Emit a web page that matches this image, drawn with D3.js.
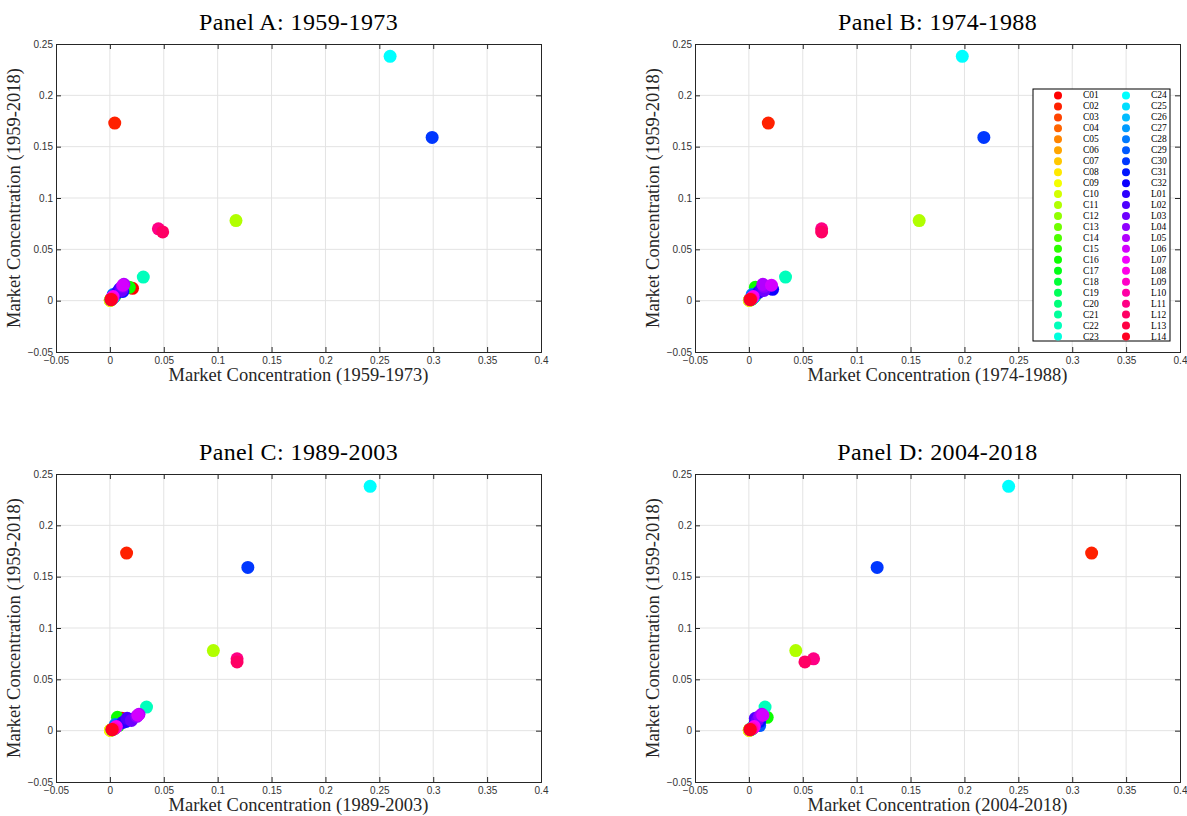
<!DOCTYPE html>
<html>
<head>
<meta charset="utf-8">
<script src="https://cdn.jsdelivr.net/npm/d3@7"></script>
<style>
  body { margin: 0; background: #fff; }
  svg { display: block; }
  .tick-label { font-family: "Liberation Sans", Arial, sans-serif; font-size: 10px; fill: #333; }
  .title { font-family: "Liberation Serif", "Times New Roman", serif; font-size: 24px; letter-spacing: 0.4px; fill: #000; }
  .axis-title { font-family: "Liberation Serif", "Times New Roman", serif; font-size: 18.5px; fill: #262626; }
  .legend-text { font-family: "Liberation Serif", serif; font-size: 9.5px; fill: #000; }
</style>
</head>
<body>
<svg id="chart" width="1187" height="816"></svg>
<script>
// industry codes (legend order)
const codes = ["C01","C02","C03","C04","C05","C06","C07","C08","C09","C10","C11","C12",
  "C13","C14","C15","C16","C17","C18","C19","C20","C21","C22","C23","C24","C25","C26",
  "C27","C28","C29","C30","C31","C32","L01","L02","L03","L04","L05","L06","L07","L08",
  "L09","L10","L11","L12","L13","L14"];

// market concentration 1959-2018 (y, same for every panel)
const concFull = [0.012,0.173,0.001,0.0008,0.0006,0.0004,0.0005,0.0003,0.0004,0.0012,0.078,0.002,
  0.003,0.004,0.005,0.013,0.003,0.002,0.001,0.0015,0.002,0.023,0.001,0.238,0.002,0.003,
  0.004,0.006,0.005,0.159,0.009,0.011,0.008,0.012,0.010,0.014,0.016,0.015,0.004,0.003,
  0.002,0.0015,0.070,0.067,0.001,0.0012];

// market concentration per sub-period (x)
const conc5973 = [0.021,0.0045,0.001,0.0008,0.0005,0.0004,0.0005,0.0003,0.0004,0.001,0.117,0.002,
  0.003,0.004,0.005,0.018,0.003,0.002,0.001,0.0015,0.002,0.031,0.001,0.260,0.002,0.003,
  0.004,0.003,0.003,0.299,0.012,0.009,0.007,0.010,0.011,0.012,0.013,0.012,0.003,0.002,
  0.002,0.0015,0.045,0.049,0.001,0.0012];
const conc7488 = [0.012,0.018,0.002,0.001,0.0007,0.0005,0.0006,0.0004,0.0005,0.0015,0.158,0.003,
  0.004,0.005,0.006,0.006,0.004,0.003,0.002,0.002,0.003,0.034,0.001,0.198,0.002,0.004,
  0.005,0.003,0.004,0.218,0.010,0.022,0.009,0.012,0.014,0.014,0.013,0.021,0.004,0.003,
  0.002,0.002,0.0675,0.0675,0.001,0.0015];
const conc8903 = [0.011,0.0155,0.002,0.0015,0.001,0.0006,0.0008,0.0005,0.0006,0.002,0.096,0.004,
  0.005,0.006,0.008,0.007,0.005,0.004,0.002,0.003,0.004,0.034,0.002,0.2415,0.003,0.005,
  0.006,0.005,0.007,0.128,0.015,0.018,0.012,0.016,0.020,0.025,0.027,0.026,0.006,0.005,
  0.004,0.003,0.118,0.118,0.002,0.002];
const conc0418 = [0.008,0.318,0.001,0.0008,0.0006,0.0004,0.0005,0.0003,0.0004,0.001,0.0435,0.002,
  0.003,0.004,0.006,0.017,0.004,0.003,0.002,0.002,0.003,0.015,0.001,0.241,0.002,0.004,
  0.005,0.009,0.010,0.119,0.010,0.008,0.006,0.006,0.008,0.010,0.012,0.013,0.005,0.004,
  0.003,0.002,0.060,0.052,0.001,0.0012];

const panelTitles = ["Panel A: 1959-1973","Panel B: 1974-1988","Panel C: 1989-2003","Panel D: 2004-2018"];
const periods = ["1959-1973","1974-1988","1989-2003","2004-2018"];
const panelX = [conc5973, conc7488, conc8903, conc0418];

const xTicks = [-0.05,0,0.05,0.1,0.15,0.2,0.25,0.3,0.35,0.4];
const yTicks = [-0.05,0,0.05,0.1,0.15,0.2,0.25];

const svg = d3.select("#chart");

// hsv colormap, one hue per industry
const colorOf = i => d3.hsl(i / codes.length * 360, 1, 0.5).formatHex();

const Panel = function (k, left, top) {
    let that = this;
    that.w = 485;
    that.h = 308;
    that.g = svg.append("g").attr("transform", `translate(${left},${top})`);

    that.x = d3.scaleLinear().domain([-0.05, 0.4]).range([0, that.w]);
    that.y = d3.scaleLinear().domain([-0.05, 0.25]).range([that.h, 0]);

    that.draw_grid = function () {
        that.g.append("g").selectAll("line").data(xTicks.slice(1, -1)).join("line")
            .attr("x1", d => that.x(d)).attr("x2", d => that.x(d))
            .attr("y1", 0).attr("y2", that.h)
            .style("stroke", "#e3e3e3").style("stroke-width", 1);
        that.g.append("g").selectAll("line").data(yTicks.slice(1, -1)).join("line")
            .attr("y1", d => that.y(d)).attr("y2", d => that.y(d))
            .attr("x1", 0).attr("x2", that.w)
            .style("stroke", "#e3e3e3").style("stroke-width", 1);
    };

    that.draw_axes = function () {
        const tl = 5;
        let xb = that.g.append("g").attr("transform", `translate(0,${that.h})`)
            .call(d3.axisBottom(that.x).tickValues(xTicks).tickSize(-tl).tickFormat(d3.format("")));
        let xt = that.g.append("g")
            .call(d3.axisTop(that.x).tickValues(xTicks).tickSize(-tl).tickFormat(""));
        let yl = that.g.append("g")
            .call(d3.axisLeft(that.y).tickValues(yTicks).tickSize(-tl).tickFormat(d3.format("")));
        let yr = that.g.append("g").attr("transform", `translate(${that.w},0)`)
            .call(d3.axisRight(that.y).tickValues(yTicks).tickSize(-tl).tickFormat(""));
        [xb, xt, yl, yr].forEach(a => {
            a.select(".domain").style("stroke", "#262626").style("stroke-width", 1);
            a.selectAll(".tick line").style("stroke", "#262626");
            a.selectAll("text").attr("class", "tick-label").attr("font-size", null).attr("font-family", null);
        });
        xb.selectAll("text").attr("dy", "0.75em").attr("y", 4);
        yl.selectAll("text").attr("x", -3);
    };

    that.draw_points = function () {
        let xs = panelX[k];
        let pts = codes.map((c, i) => ({ code: c, x: xs[i], y: concFull[i], i: i }));
        that.g.append("g").selectAll("circle").data(pts).join("circle")
            .attr("cx", d => that.x(d.x))
            .attr("cy", d => that.y(d.y))
            .attr("r", 6.5)
            .style("fill", d => colorOf(d.i));
    };

    that.draw_labels = function () {
        that.g.append("text").attr("class", "title")
            .attr("x", that.w / 2).attr("y", -14)
            .attr("text-anchor", "middle").text(panelTitles[k]);
        that.g.append("text").attr("class", "axis-title")
            .attr("x", that.w / 2).attr("y", that.h + 29)
            .attr("text-anchor", "middle").text(`Market Concentration (${periods[k]})`);
        that.g.append("text").attr("class", "axis-title")
            .attr("transform", `translate(-36,${that.h / 2}) rotate(-90)`)
            .attr("text-anchor", "middle").text("Market Concentration (1959-2018)");
    };

    that.draw_grid();
    that.draw_points();
    that.draw_axes();
    that.draw_labels();
};

new Panel(0, 56, 44);
new Panel(1, 695, 44);
new Panel(2, 56, 474);
new Panel(3, 695, 474);

// legend in panel B
const legend = svg.append("g").attr("transform", "translate(1033,89)");
legend.append("rect").attr("width", 137).attr("height", 252)
    .style("fill", "#fff").style("stroke", "#000").style("stroke-width", 1);
const rows = 23, rowH = 252 / rows;
const items = legend.selectAll("g.item").data(codes).join("g")
    .attr("class", "item")
    .attr("transform", (d, i) => `translate(${i < rows ? 0 : 68},${(i % rows + 0.5) * rowH + 1})`);
items.append("circle").attr("cx", 25).attr("cy", 0).attr("r", 4)
    .style("fill", (d, i) => colorOf(i));
items.append("text").attr("class", "legend-text").attr("x", 50).attr("y", 3).text(d => d);
</script>
</body>
</html>
